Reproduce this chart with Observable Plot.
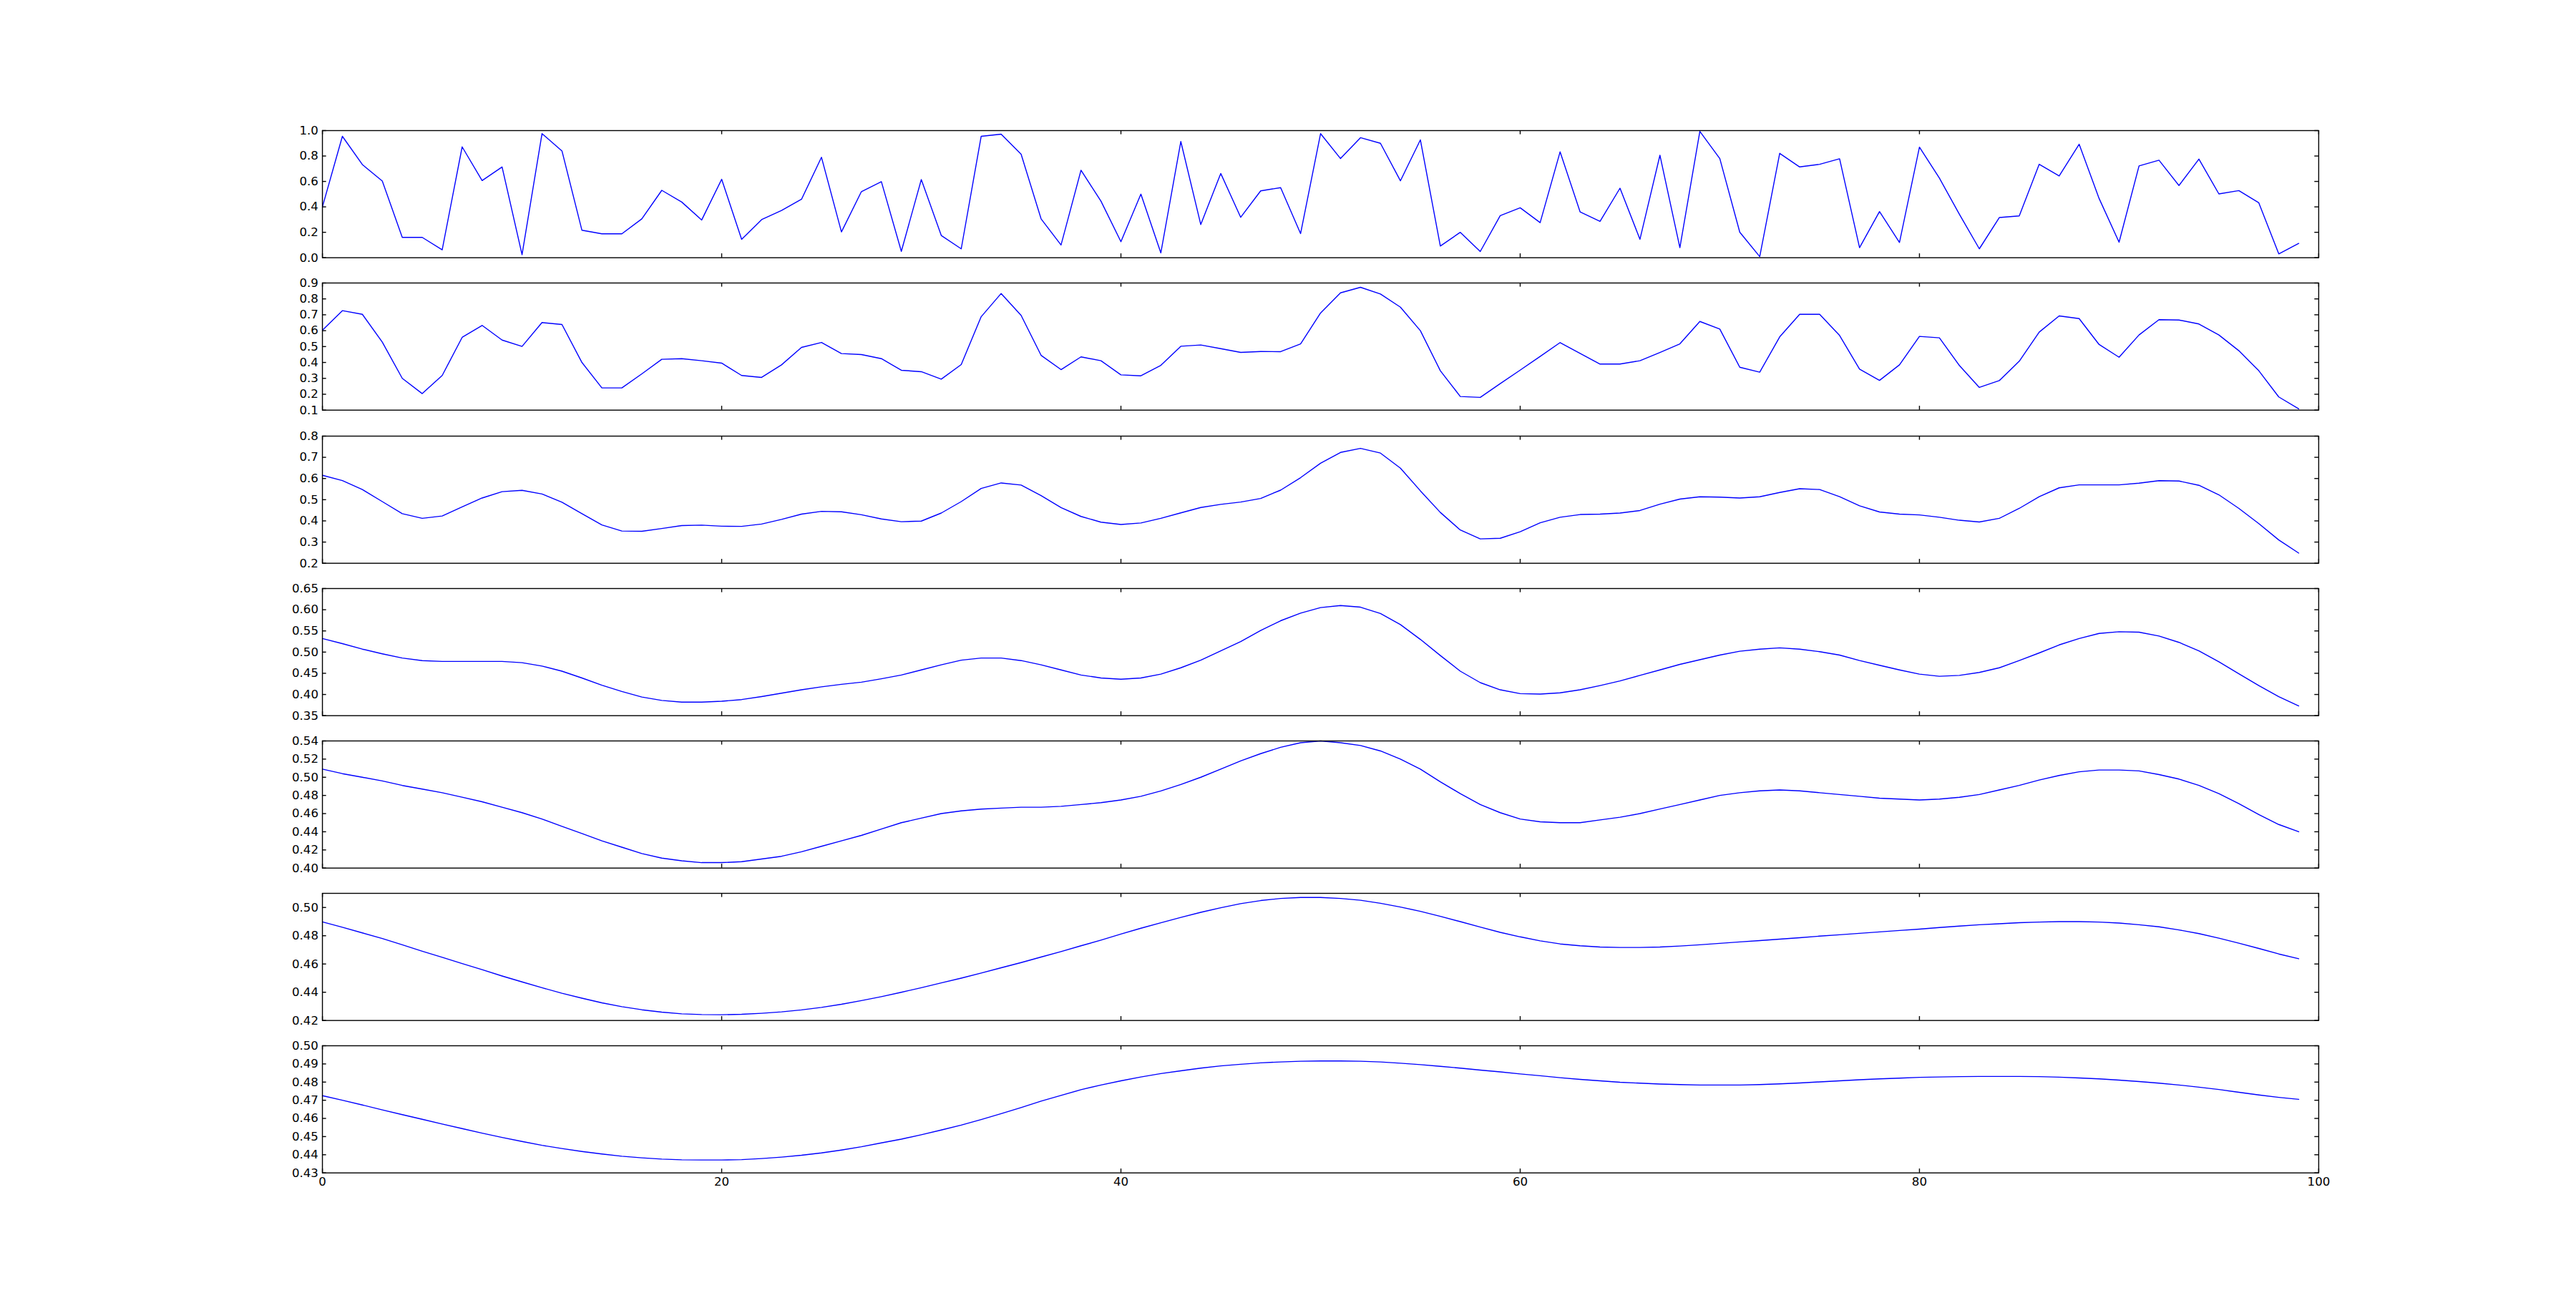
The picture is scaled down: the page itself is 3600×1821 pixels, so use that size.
<!DOCTYPE html>
<html>
<head>
<meta charset="utf-8">
<script src="https://cdn.jsdelivr.net/npm/d3@7"></script>
<script src="https://cdn.jsdelivr.net/npm/@observablehq/plot@0.6"></script>
<style>
  html, body { margin: 0; padding: 0; background: #ffffff; }
  #chart { position: relative; width: 3600px; height: 1821px; background: #ffffff; color: #000000; }
</style>
</head>
<body>
<div id="chart"></div>
<script>
// ---------- data ----------
const xTicks = [0, 20, 40, 60, 80, 100];

const series1 = [0.40,0.955,0.733,0.603,0.16,0.16,0.062,0.872,0.607,0.714,
0.024,0.976,0.84,0.216,0.188,0.188,0.306,0.53,0.438,0.297,
0.617,0.145,0.30,0.372,0.46,0.79,0.203,0.52,0.598,0.05,
0.615,0.175,0.07,0.955,0.972,0.814,0.306,0.10,0.688,0.445,
0.126,0.50,0.038,0.914,0.261,0.663,0.318,0.526,0.551,0.19,
0.976,0.78,0.944,0.90,0.605,0.927,0.092,0.20,0.049,0.331,
0.393,0.276,0.833,0.361,0.286,0.547,0.145,0.806,0.079,0.994,
0.78,0.201,0.009,0.821,0.714,0.735,0.778,0.079,0.363,0.12,
0.87,0.626,0.342,0.07,0.316,0.329,0.735,0.643,0.893,0.466,
0.122,0.722,0.767,0.568,0.776,0.502,0.528,0.432,0.03,0.113];

const series2 = [0.603,0.726,0.703,0.528,0.300,0.204,0.318,0.558,0.633,0.541,
0.501,0.651,0.639,0.400,0.240,0.240,0.328,0.420,0.424,0.411,
0.396,0.318,0.306,0.385,0.495,0.526,0.456,0.450,0.424,0.351,
0.342,0.295,0.387,0.688,0.834,0.696,0.445,0.355,0.435,0.411,
0.322,0.316,0.382,0.502,0.510,0.487,0.463,0.469,0.468,0.517,
0.711,0.838,0.873,0.831,0.748,0.600,0.348,0.186,0.180,0.267,
0.352,0.438,0.525,0.457,0.390,0.390,0.411,0.463,0.517,0.658,
0.610,0.370,0.339,0.561,0.703,0.703,0.570,0.358,0.287,0.385,
0.564,0.555,0.381,0.243,0.286,0.408,0.591,0.693,0.676,0.513,
0.433,0.573,0.669,0.667,0.642,0.573,0.474,0.348,0.183,0.108];

const series3 = [0.615,0.590,0.548,0.491,0.434,0.412,0.423,0.466,0.508,0.538,
0.544,0.527,0.488,0.434,0.381,0.352,0.351,0.364,0.378,0.380,
0.375,0.374,0.385,0.407,0.432,0.445,0.443,0.429,0.409,0.396,
0.399,0.437,0.491,0.553,0.579,0.569,0.519,0.463,0.421,0.394,
0.383,0.390,0.412,0.438,0.463,0.478,0.489,0.506,0.545,0.604,
0.672,0.723,0.742,0.720,0.649,0.542,0.440,0.357,0.315,0.318,
0.349,0.391,0.417,0.430,0.432,0.437,0.449,0.479,0.503,0.514,
0.512,0.508,0.514,0.534,0.552,0.548,0.514,0.471,0.442,0.432,
0.428,0.417,0.403,0.395,0.412,0.459,0.514,0.556,0.570,0.570,
0.570,0.578,0.590,0.588,0.568,0.523,0.459,0.387,0.310,0.248];

const series4 = [0.532,0.520,0.507,0.496,0.486,0.480,0.478,0.478,0.478,0.478,
0.475,0.467,0.455,0.439,0.422,0.407,0.394,0.386,0.382,0.382,
0.384,0.388,0.395,0.403,0.411,0.418,0.424,0.429,0.437,0.446,
0.458,0.470,0.481,0.486,0.486,0.480,0.470,0.458,0.446,0.439,
0.436,0.439,0.448,0.463,0.481,0.503,0.525,0.551,0.574,0.592,
0.605,0.610,0.606,0.591,0.565,0.530,0.492,0.455,0.428,0.411,
0.402,0.401,0.404,0.411,0.421,0.432,0.445,0.458,0.471,0.482,
0.493,0.502,0.507,0.510,0.507,0.501,0.493,0.480,0.469,0.458,
0.448,0.443,0.445,0.452,0.463,0.480,0.498,0.517,0.532,0.544,
0.548,0.547,0.538,0.523,0.503,0.477,0.449,0.421,0.395,0.373];

const series5 = [0.509,0.504,0.500,0.496,0.491,0.487,0.483,0.478,0.473,0.467,
0.461,0.454,0.446,0.438,0.430,0.423,0.416,0.411,0.408,0.406,
0.406,0.407,0.410,0.413,0.418,0.424,0.430,0.436,0.443,0.450,
0.455,0.460,0.463,0.465,0.466,0.467,0.467,0.468,0.470,0.472,
0.475,0.479,0.485,0.492,0.500,0.509,0.518,0.526,0.533,0.538,
0.540,0.538,0.535,0.529,0.520,0.509,0.495,0.482,0.470,0.461,
0.454,0.451,0.450,0.450,0.453,0.456,0.460,0.465,0.470,0.475,
0.480,0.483,0.485,0.486,0.485,0.483,0.481,0.479,0.477,0.476,
0.475,0.476,0.478,0.481,0.486,0.491,0.497,0.502,0.506,0.508,
0.508,0.507,0.503,0.498,0.491,0.482,0.471,0.459,0.448,0.440];

const series6 = [0.4898,0.4860,0.4820,0.4780,0.4736,0.4690,0.4647,0.4603,0.4560,0.4515,
0.4473,0.4432,0.4393,0.4358,0.4325,0.4298,0.4276,0.4259,0.4247,0.4242,
0.4241,0.4244,0.4251,0.4261,0.4275,0.4293,0.4315,0.4341,0.4369,0.4400,
0.4432,0.4466,0.4500,0.4536,0.4573,0.4610,0.4649,0.4688,0.4729,0.4769,
0.4812,0.4853,0.4892,0.4930,0.4966,0.4998,0.5027,0.5049,0.5064,0.5071,
0.5071,0.5064,0.5051,0.5030,0.5003,0.4973,0.4937,0.4900,0.4861,0.4824,
0.4792,0.4764,0.4742,0.4729,0.4720,0.4717,0.4717,0.4720,0.4727,0.4736,
0.4746,0.4756,0.4766,0.4776,0.4786,0.4797,0.4807,0.4817,0.4827,0.4837,
0.4847,0.4858,0.4868,0.4878,0.4885,0.4892,0.4897,0.4900,0.4900,0.4897,
0.4890,0.4878,0.4863,0.4841,0.4815,0.4783,0.4747,0.4710,0.4671,0.4637];

const series7 = [0.4725,0.4700,0.4674,0.4647,0.4621,0.4595,0.4569,0.4544,0.4519,0.4495,
0.4473,0.4452,0.4434,0.4418,0.4404,0.4392,0.4383,0.4376,0.4372,0.4371,
0.4371,0.4373,0.4379,0.4387,0.4397,0.4410,0.4426,0.4444,0.4465,0.4486,
0.4510,0.4536,0.4563,0.4594,0.4626,0.4660,0.4695,0.4727,0.4758,0.4784,
0.4807,0.4828,0.4847,0.4862,0.4877,0.4889,0.4898,0.4906,0.4911,0.4915,
0.4916,0.4916,0.4915,0.4911,0.4904,0.4896,0.4887,0.4877,0.4866,0.4856,
0.4845,0.4835,0.4824,0.4815,0.4807,0.4799,0.4794,0.4789,0.4786,0.4784,
0.4784,0.4784,0.4786,0.4790,0.4795,0.4801,0.4807,0.4813,0.4818,0.4822,
0.4826,0.4828,0.4830,0.4831,0.4831,0.4831,0.4830,0.4827,0.4823,0.4818,
0.4811,0.4803,0.4794,0.4784,0.4772,0.4759,0.4744,0.4729,0.4716,0.4705];

const yDomain1 = [0.0, 1.0],  yTicks1 = [0.0, 0.2, 0.4, 0.6, 0.8, 1.0];
const yDomain2 = [0.1, 0.9],  yTicks2 = [0.1, 0.2, 0.3, 0.4, 0.5, 0.6, 0.7, 0.8, 0.9];
const yDomain3 = [0.2, 0.8],  yTicks3 = [0.2, 0.3, 0.4, 0.5, 0.6, 0.7, 0.8];
const yDomain4 = [0.35, 0.65], yTicks4 = [0.35, 0.40, 0.45, 0.50, 0.55, 0.60, 0.65];
const yDomain5 = [0.40, 0.54], yTicks5 = [0.40, 0.42, 0.44, 0.46, 0.48, 0.50, 0.52, 0.54];
const yDomain6 = [0.42, 0.51], yTicks6 = [0.42, 0.44, 0.46, 0.48, 0.50];
const yDomain7 = [0.43, 0.50], yTicks7 = [0.43, 0.44, 0.45, 0.46, 0.47, 0.48, 0.49, 0.50];

const panels = [
  {values: series1, domain: yDomain1, ticks: yTicks1, fmt: ".1f"},
  {values: series2, domain: yDomain2, ticks: yTicks2, fmt: ".1f"},
  {values: series3, domain: yDomain3, ticks: yTicks3, fmt: ".1f"},
  {values: series4, domain: yDomain4, ticks: yTicks4, fmt: ".2f"},
  {values: series5, domain: yDomain5, ticks: yTicks5, fmt: ".2f"},
  {values: series6, domain: yDomain6, ticks: yTicks6, fmt: ".2f"},
  {values: series7, domain: yDomain7, ticks: yTicks7, fmt: ".2f"}
];

// ---------- layout ----------
const W = 3600, ML = 450, MR = 360;
const PH = 177.7, GAP = 35.5, TOP0 = 182.1, TICK = 5.6, LW = 1.4, FS = 16.67;
const PW = W - ML - MR;
const root = document.getElementById("chart");

panels.forEach((p, k) => {
  const last = k === panels.length - 1;
  const mt = 14, mb = last ? 50 : 14;
  const data = p.values.map((v, i) => ({x: i, y: v}));
  const marks = [
    Plot.ruleY(p.ticks, {stroke: "black", strokeWidth: LW, insetRight: PW - TICK}),
    Plot.ruleY(p.ticks, {stroke: "black", strokeWidth: LW, insetLeft: PW - TICK}),
    Plot.ruleX(xTicks, {stroke: "black", strokeWidth: LW, insetTop: PH - TICK}),
    Plot.ruleX(xTicks, {stroke: "black", strokeWidth: LW, insetBottom: PH - TICK}),
    Plot.line(data, {x: "x", y: "y", stroke: "#0000ff", strokeWidth: LW}),
    Plot.frame({stroke: "black", strokeWidth: LW}),
    Plot.axisY({ticks: p.ticks, anchor: "left", tickSize: 0, tickPadding: 5.6,
                fontSize: FS, label: null, tickFormat: d3.format(p.fmt)})
  ];
  if (last) {
    marks.push(Plot.axisX({ticks: xTicks, anchor: "bottom", tickSize: 0, tickPadding: 5.6,
                           fontSize: FS, label: null, tickFormat: d3.format("d")}));
  }
  const svg = Plot.plot({
    width: W,
    height: PH + mt + mb,
    marginLeft: ML, marginRight: MR, marginTop: mt, marginBottom: mb,
    x: last ? {domain: [0, 100], label: null} : {domain: [0, 100], axis: null},
    y: {domain: p.domain, label: null},
    style: {fontFamily: "'DejaVu Sans', sans-serif", fontSize: FS + "px", background: "transparent",
            overflow: "visible", maxWidth: "none", color: "black"},
    marks
  });
  svg.style.position = "absolute";
  svg.style.left = "0px";
  svg.style.top = (TOP0 + k * (PH + GAP) - mt) + "px";
  root.append(svg);
});
</script>
</body>
</html>
